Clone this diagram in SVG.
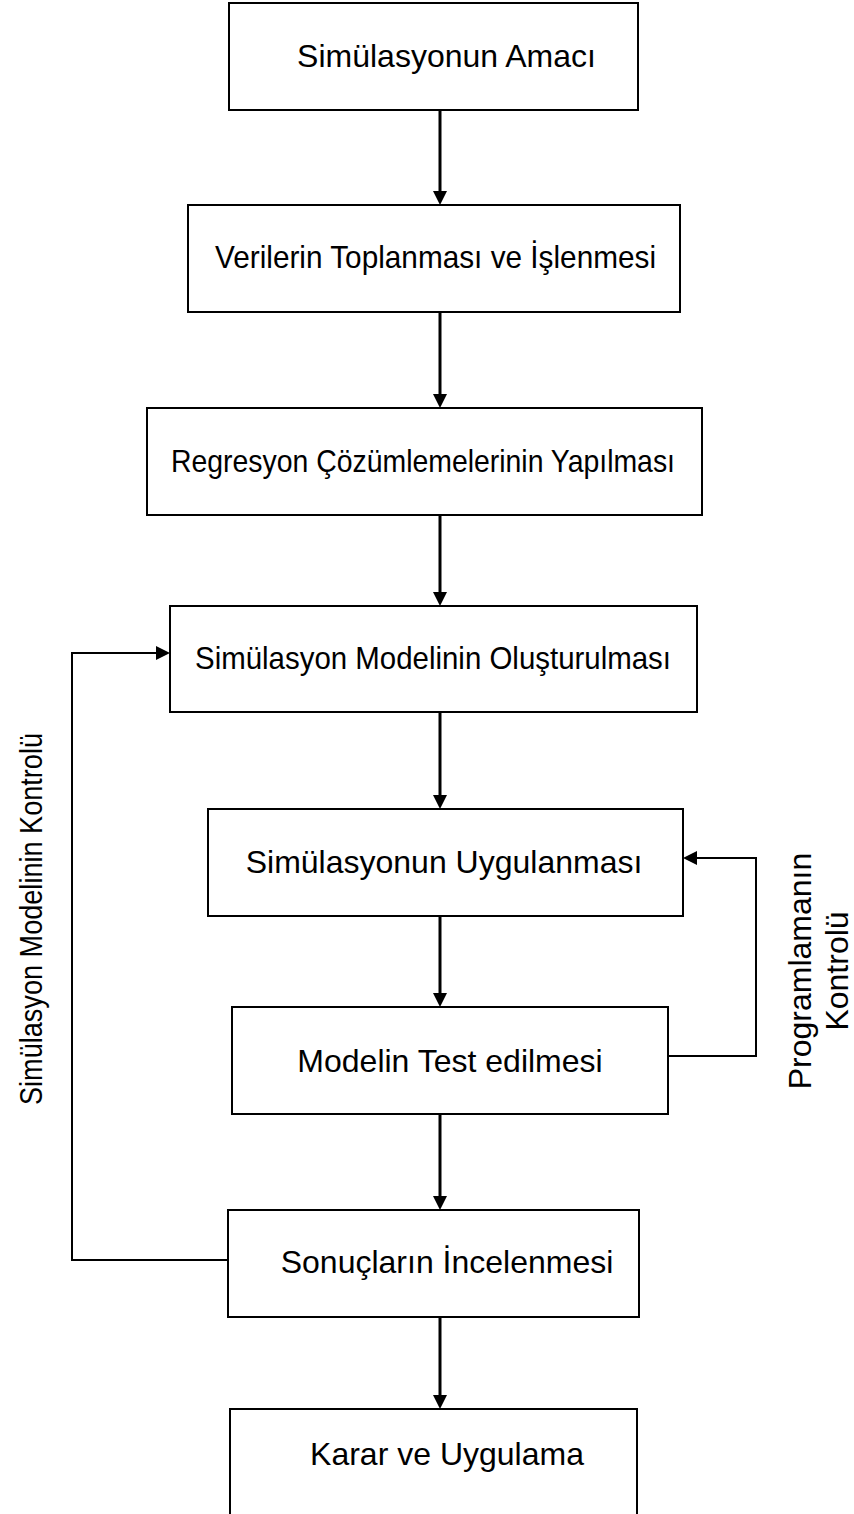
<svg xmlns="http://www.w3.org/2000/svg" width="854" height="1514" viewBox="0 0 854 1514">
<style>
.box{fill:#fff;stroke:#000;stroke-width:2}
.lbl{font-family:"Liberation Sans",Arial,sans-serif;font-size:32px;fill:#000;text-anchor:middle}
.arr{fill:none;stroke:#000;stroke-width:3}
.fb{fill:none;stroke:#000;stroke-width:2}
</style>
<defs>
<marker id="ah" markerUnits="userSpaceOnUse" markerWidth="14" markerHeight="14" refX="2" refY="7" orient="auto">
<path d="M0,0 L14,7 L0,14 z" fill="#000"/>
</marker>
</defs>
<rect width="854" height="1514" fill="#fff"/>
<g id="connectors">
<line class="arr" x1="440" y1="110" x2="440" y2="193" marker-end="url(#ah)"/>
<line class="arr" x1="440" y1="312" x2="440" y2="396" marker-end="url(#ah)"/>
<line class="arr" x1="440" y1="515" x2="440" y2="594" marker-end="url(#ah)"/>
<line class="arr" x1="440" y1="712" x2="440" y2="797" marker-end="url(#ah)"/>
<line class="arr" x1="440" y1="916" x2="440" y2="995" marker-end="url(#ah)"/>
<line class="arr" x1="440" y1="1114" x2="440" y2="1198" marker-end="url(#ah)"/>
<line class="arr" x1="440" y1="1317" x2="440" y2="1397" marker-end="url(#ah)"/>
<polyline class="fb" points="228,1260 72,1260 72,653 158,653" marker-end="url(#ah)"/>
<polyline class="fb" points="668,1056 756,1056 756,858 695,858" marker-end="url(#ah)"/>
</g>
<g id="n1"><rect class="box" x="229" y="3" width="409" height="107"/><text class="lbl" x="446.5" y="67">Simülasyonun Amacı</text></g>
<g id="n2"><rect class="box" x="188" y="205" width="492" height="107"/><text class="lbl" x="435.5" y="268" textLength="441" lengthAdjust="spacingAndGlyphs">Verilerin Toplanması ve İşlenmesi</text></g>
<g id="n3"><rect class="box" x="147" y="408" width="555" height="107"/><text class="lbl" x="423" y="472" textLength="504" lengthAdjust="spacingAndGlyphs">Regresyon Çözümlemelerinin Yapılması</text></g>
<g id="n4"><rect class="box" x="170" y="606" width="527" height="106"/><text class="lbl" x="433" y="669" textLength="476" lengthAdjust="spacingAndGlyphs">Simülasyon Modelinin Oluşturulması</text></g>
<g id="n5"><rect class="box" x="208" y="809" width="475" height="107"/><text class="lbl" x="444" y="873">Simülasyonun Uygulanması</text></g>
<g id="n6"><rect class="box" x="232" y="1007" width="436" height="107"/><text class="lbl" x="450" y="1072">Modelin Test edilmesi</text></g>
<g id="n7"><rect class="box" x="228" y="1210" width="411" height="107"/><text class="lbl" x="447" y="1273">Sonuçların İncelenmesi</text></g>
<g id="n8"><rect class="box" x="230" y="1409" width="407" height="120"/><text class="lbl" x="447" y="1465">Karar ve Uygulama</text></g>
<g id="labels">
<text class="lbl" transform="translate(42,919) rotate(-90)" textLength="372" lengthAdjust="spacingAndGlyphs">Simülasyon Modelinin Kontrolü</text>
<text class="lbl" transform="translate(811,971) rotate(-90)">Programlamanın</text>
<text class="lbl" transform="translate(848,971) rotate(-90)">Kontrolü</text>
</g>
</svg>
